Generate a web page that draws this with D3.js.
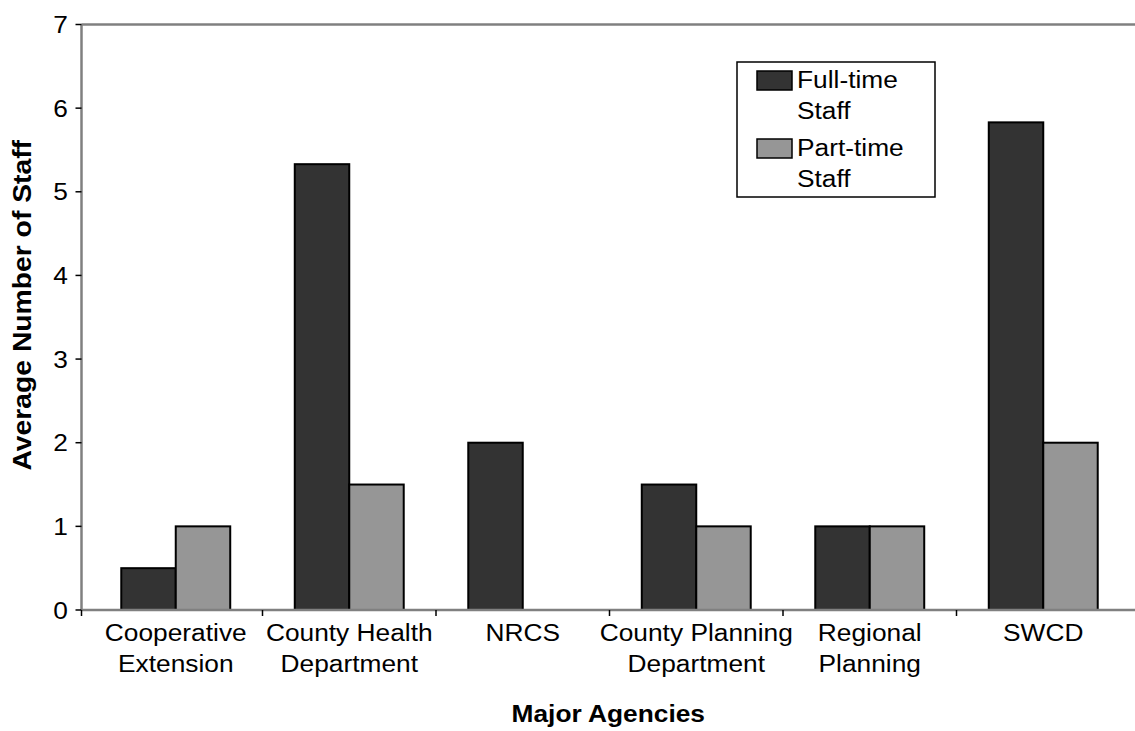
<!DOCTYPE html>
<html>
<head>
<meta charset="utf-8">
<script src="https://cdn.jsdelivr.net/npm/d3@7"></script>
<style>
  html, body { margin: 0; padding: 0; background: #fff; }
  svg { display: block; }
  text { font-family: "Liberation Sans", Arial, sans-serif; fill: #000; }
</style>
</head>
<body>
<svg id="chart" width="1135" height="731"></svg>
<script>
const categories = [
  ["Cooperative", "Extension"],
  ["County Health", "Department"],
  ["NRCS"],
  ["County Planning", "Department"],
  ["Regional", "Planning"],
  ["SWCD"]
];
const seriesNames = ["Full-time Staff", "Part-time Staff"];
const legendLines = [["Full-time", "Staff"], ["Part-time", "Staff"]];
const fullTime = [0.5, 5.33, 2, 1.5, 1, 5.83];
const partTime = [1, 1.5, 0, 1, 1, 2];
const yTicks = [0, 1, 2, 3, 4, 5, 6, 7];
const xTitle = "Major Agencies";
const yTitle = "Average Number of Staff";
const colors = ["#333333", "#969696"];

const SX = 1.12; // horizontal text stretch
const svg = d3.select("#chart");
const plot = { left: 81.5, right: 1135, top: 24.5, bottom: 610 };

const catKeys = categories.map((c, i) => i);
const x0 = d3.scaleBand().domain(catKeys).range([89, 1130]).padding(0);
const step = x0.bandwidth();
const x1 = d3.scaleBand().domain([0, 1]).range([step * 0.186, step * 0.814]).padding(0);
const y = d3.scaleLinear().domain([0, 7]).range([plot.bottom, plot.top]);

const axisColor = "#808080";

// top border
svg.append("line").attr("x1", plot.left).attr("x2", plot.right)
  .attr("y1", plot.top).attr("y2", plot.top)
  .attr("stroke", axisColor).attr("stroke-width", 2.5);

// bars
const data = [fullTime, partTime];
const g = svg.append("g");
catKeys.forEach(i => {
  [0, 1].forEach(s => {
    const v = data[s][i];
    if (v <= 0) return;
    g.append("rect")
      .attr("x", x0(i) + x1(s))
      .attr("y", y(v))
      .attr("width", x1.bandwidth())
      .attr("height", y(0) - y(v))
      .attr("fill", colors[s])
      .attr("stroke", "#000")
      .attr("stroke-width", 2);
  });
});

// y axis
svg.append("line").attr("x1", plot.left).attr("x2", plot.left)
  .attr("y1", plot.top).attr("y2", plot.bottom)
  .attr("stroke", axisColor).attr("stroke-width", 2.5);
yTicks.forEach(t => {
  svg.append("line").attr("x1", plot.left - 6).attr("x2", plot.left)
    .attr("y1", y(t)).attr("y2", y(t))
    .attr("stroke", "#000").attr("stroke-width", 1.5);
  svg.append("text")
    .attr("transform", `translate(68,${y(t) + 8.5}) scale(${SX},1)`)
    .attr("text-anchor", "end")
    .attr("font-size", 23.5)
    .text(t);
});

// x axis
svg.append("line").attr("x1", plot.left).attr("x2", plot.right)
  .attr("y1", plot.bottom).attr("y2", plot.bottom)
  .attr("stroke", axisColor).attr("stroke-width", 2.5);
const tickXs = [plot.left].concat(catKeys.slice(1).map(i => x0(i)));
tickXs.forEach(tx => {
  svg.append("line").attr("x1", tx).attr("x2", tx)
    .attr("y1", plot.bottom).attr("y2", plot.bottom + 6)
    .attr("stroke", "#000").attr("stroke-width", 1.5);
});
catKeys.forEach(i => {
  const cx = x0(i) + step / 2;
  categories[i].forEach((line, k) => {
    svg.append("text")
      .attr("transform", `translate(${cx},${641 + k * 31}) scale(${SX},1)`)
      .attr("text-anchor", "middle")
      .attr("font-size", 23.5)
      .text(line);
  });
});

// axis titles
svg.append("text")
  .attr("transform", `translate(${(plot.left + plot.right) / 2},722) scale(${SX},1)`)
  .attr("text-anchor", "middle")
  .attr("font-size", 23.5).attr("font-weight", "bold")
  .text(xTitle);
svg.append("text")
  .attr("transform", `translate(31,${(plot.top + plot.bottom) / 2 - 12}) rotate(-90) scale(1.23,1.1)`)
  .attr("text-anchor", "middle")
  .attr("font-size", 23).attr("font-weight", "bold")
  .text(yTitle);

// legend
const lg = svg.append("g");
lg.append("rect").attr("x", 737).attr("y", 62).attr("width", 198).attr("height", 135)
  .attr("fill", "#fff").attr("stroke", "#000").attr("stroke-width", 1.5);
seriesNames.forEach((name, s) => {
  const top = 71 + s * 68;
  lg.append("rect").attr("x", 757).attr("y", top).attr("width", 35).attr("height", 19)
    .attr("fill", colors[s]).attr("stroke", "#000").attr("stroke-width", 1.5);
  legendLines[s].forEach((line, k) => {
    lg.append("text")
      .attr("transform", `translate(797,${top + 17 + k * 31}) scale(${SX},1)`)
      .attr("font-size", 23.5)
      .text(line);
  });
});
</script>
</body>
</html>
